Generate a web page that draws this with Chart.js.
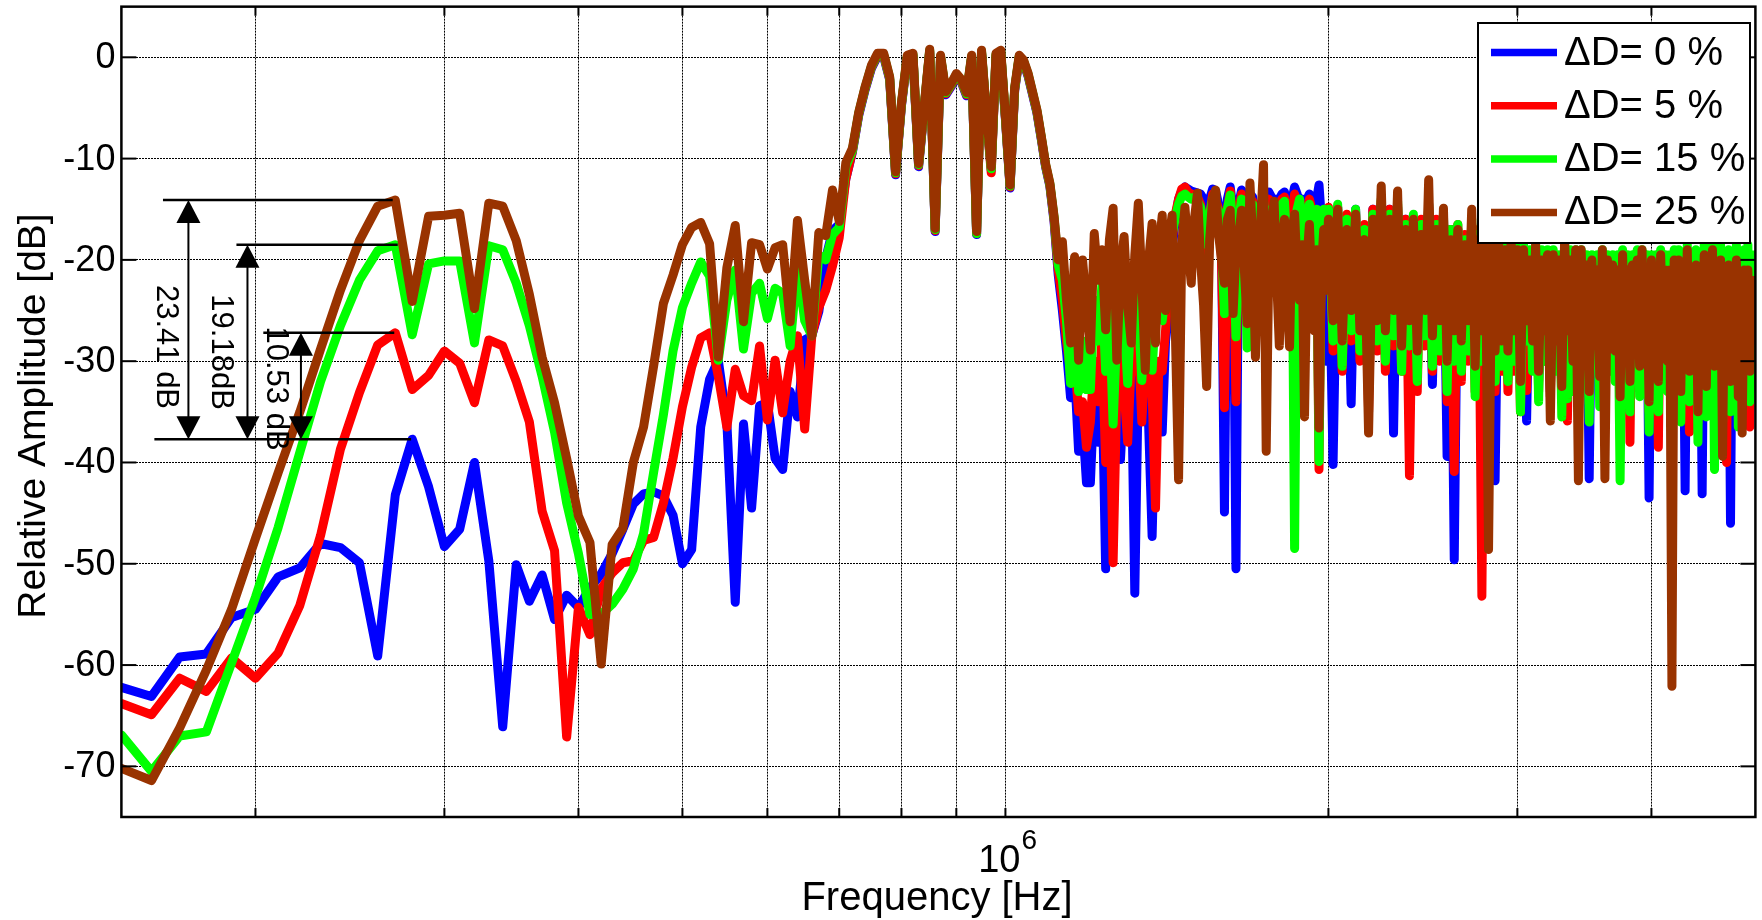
<!DOCTYPE html>
<html>
<head>
<meta charset="utf-8">
<title>Relative amplitude spectrum</title>
<script src="https://cdn.jsdelivr.net/npm/chart.js@4.4.1/dist/chart.umd.min.js"></script>
<style>
    html, body { margin: 0; padding: 0; background: #ffffff; overflow: hidden; }
    canvas { display: block; }
</style>
</head>
<body>
<canvas id="spectrumChart" width="1762" height="920"></canvas>
<script>
// Frequency bins [kHz]: 10 kHz steps below 2 MHz, 20 kHz steps up to 5 MHz
function bins(start, stop, step) {
    var out = [];
    for (var f = start; f <= stop; f += step) out.push(f);
    return out;
}
var freqLow = bins(150, 1190, 10);
var freqMid = bins(1200, 1990, 10);
var freqHigh = bins(2000, 5000, 20);

var seriesLabels = ['\u0394D= 0 %', '\u0394D= 5 %', '\u0394D= 15 %', '\u0394D= 25 %'];

// Relative amplitude [dB] - ΔD = 0 %
var blueLow = [
    -62.2, -63.1, -59.2, -58.9, -55.3, -54.5, -51.3, -50.4, -48.0, -48.4,
    -49.9, -59.1, -43.2, -37.7, -42.4, -48.3, -46.6, -40.0, -49.7, -66.1,
    -50.1, -53.7, -51.1, -55.5, -53.1, -54.3, -52.4, -51.0, -49.0, -46.6,
    -44.1, -43.1, -42.9, -43.3, -45.2, -50.0, -48.6, -36.5, -31.8, -29.9,
    -36.0, -53.8, -36.2, -44.5, -34.4, -34.1, -39.6, -40.7, -33.0, -35.5,
    -27.9, -27.5, -25.1, -19.9, -17.1, -16.5, -12.0, -9.4, -5.7, -3.2,
    -1.1, 0.1, 0.1, -2.2, -11.6, -4.8, -0.1, 0.1, -10.8, -5.1,
    0.5, -17.2, -0.1, -3.7, -2.9, -1.9, -2.5, -3.8, -0.1, -17.5,
    0.4, -5.8, -11.1, 0.1, 0.4, -6.1, -12.9, -3.3, -0.1, -0.6,
    -1.9, -3.7, -5.5, -8.1, -10.8, -12.7, -16.2, -21.5, -25.0, -29.0,
    -33.6, -31.0, -38.9, -36.0, -42.0
];
var blueMid = [
    -42.0, -33.0, -38.0, -31.0, -50.5, -34.0, -36.0, -31.0, -39.7, -33.0,
    -33.0, -30.0, -52.9, -32.0, -30.0, -33.0, -36.5, -47.3, -34.0, -31.0,
    -37.0, -28.0, -25.0, -19.0, -16.0, -14.0, -13.2, -12.8, -13.0, -13.2,
    -13.3, -13.4, -13.5, -14.0, -15.0, -14.0, -13.0, -13.2, -14.5, -18.0,
    -44.9, -14.0, -12.8, -15.0, -50.5, -14.5, -13.1, -13.5, -14.0, -13.5,
    -13.8, -16.0, -22.0, -14.5, -14.5, -14.0, -13.3, -13.8, -18.0, -14.0,
    -14.0, -13.5, -13.3, -16.0, -24.0, -14.0, -12.8, -13.5, -14.5, -14.0,
    -19.0, -14.0, -13.5, -14.0, -15.5, -14.0, -12.6, -16.0, -22.0, -30.0
];
var blueHigh = [
    -15.0, -40.2, -14.8, -30.0, -16.0, -34.2, -15.0, -29.0, -17.0, -33.0,
    -15.0, -28.0, -14.5, -29.0, -15.0, -37.1, -14.8, -29.0, -16.0, -30.0,
    -16.0, -30.0, -17.0, -27.0, -14.5, -32.3, -16.5, -28.0, -15.5, -39.4,
    -17.0, -49.6, -17.0, -29.0, -18.0, -28.0, -17.0, -31.0, -18.0, -36.0,
    -18.0, -30.0, -18.5, -41.8, -18.5, -29.0, -19.0, -30.0, -19.0, -29.9,
    -19.5, -33.0, -19.5, -35.9, -20.0, -29.0, -19.5, -32.0, -20.0, -28.0,
    -20.0, -33.0, -20.0, -29.0, -20.5, -33.0, -20.0, -34.0, -20.5, -31.0,
    -20.0, -34.0, -20.0, -29.0, -20.5, -41.6, -20.5, -28.0, -21.0, -32.0,
    -20.0, -32.0, -20.5, -29.0, -20.5, -30.0, -21.0, -34.0, -20.0, -29.0,
    -21.0, -33.0, -20.5, -28.0, -20.5, -31.0, -20.0, -29.0, -21.0, -43.5,
    -20.5, -30.0, -21.0, -33.0, -20.0, -28.0, -21.0, -31.0, -21.0, -34.0,
    -20.5, -29.0, -20.5, -33.0, -21.0, -42.8, -20.0, -32.0, -21.0, -29.0,
    -20.5, -35.0, -21.0, -43.1, -20.0, -33.0, -21.0, -29.0, -20.0, -34.0,
    -21.0, -28.0, -20.5, -35.0, -21.0, -30.0, -20.5, -46.0, -21.0, -28.0,
    -20.5, -34.0, -21.5, -32.0, -21.0, -29.0, -21.0, -33.0, -22.0, -29.0,
    -21.0
];

// ΔD = 5 %
var redLow = [
    -63.8, -64.9, -61.3, -62.6, -59.3, -61.3, -58.8, -54.1, -47.2, -38.7,
    -33.1, -28.4, -27.2, -32.8, -31.4, -29.0, -30.2, -34.1, -27.9, -28.5,
    -32.0, -36.0, -44.8, -48.7, -67.1, -54.3, -57.0, -52.5, -50.9, -49.9,
    -49.7, -47.7, -47.4, -44.0, -39.6, -34.5, -30.6, -27.7, -27.2, -31.5,
    -36.5, -30.8, -33.4, -33.9, -28.5, -35.8, -29.9, -35.1, -30.0, -27.5,
    -36.7, -27.5, -24.7, -23.0, -20.6, -17.8, -12.0, -9.3, -5.6, -3.1,
    -1.0, 0.2, 0.2, -2.1, -11.5, -4.7, 0.0, 0.2, -10.7, -5.0,
    0.6, -17.1, 0.0, -3.6, -2.8, -1.8, -2.4, -3.7, 0.0, -17.4,
    0.5, -5.7, -11.4, 0.2, 0.5, -6.0, -12.8, -3.2, 0.0, -0.5,
    -1.8, -3.6, -5.4, -8.0, -10.7, -12.6, -16.0, -21.0, -24.0, -28.0,
    -31.0, -30.0, -35.0, -34.0, -38.5
];
var redMid = [
    -36.0, -30.0, -34.0, -28.0, -40.0, -31.0, -49.9, -33.0, -29.0, -33.0,
    -38.0, -30.0, -31.0, -28.0, -36.0, -30.0, -29.0, -33.0, -44.5, -30.0,
    -31.0, -27.0, -22.0, -18.0, -15.5, -14.0, -13.0, -12.8, -13.3, -13.5,
    -13.6, -13.8, -14.5, -17.0, -20.5, -15.5, -13.5, -14.0, -15.0, -20.0,
    -34.6, -15.0, -13.2, -16.5, -34.0, -15.0, -13.5, -14.5, -16.0, -14.0,
    -14.2, -18.0, -24.0, -15.0, -13.9, -16.0, -14.0, -14.5, -21.0, -15.0,
    -14.5, -14.0, -13.8, -18.0, -26.0, -15.0, -13.5, -14.5, -16.0, -15.0,
    -22.0, -15.0, -14.0, -15.0, -17.0, -16.0, -40.7, -18.0, -15.5, -16.0
];
var redHigh = [
    -14.8, -29.0, -14.8, -31.0, -15.5, -28.0, -15.2, -30.0, -16.5, -35.0,
    -15.0, -29.0, -14.2, -31.0, -15.0, -28.5, -14.5, -31.0, -16.0, -41.3,
    -15.8, -33.0, -16.0, -28.5, -14.8, -31.0, -16.0, -30.0, -16.0, -34.0,
    -17.0, -40.9, -16.5, -32.0, -17.5, -30.0, -16.5, -33.0, -17.0, -53.2,
    -17.5, -36.0, -18.0, -33.0, -18.0, -31.0, -18.5, -33.0, -18.5, -31.0,
    -19.0, -35.0, -19.0, -32.9, -19.5, -30.0, -19.0, -33.0, -19.5, -30.0,
    -19.5, -33.5, -19.5, -30.0, -20.0, -34.0, -19.5, -35.9, -20.0, -32.0,
    -19.5, -35.0, -19.5, -30.0, -20.0, -34.2, -20.0, -29.0, -20.0, -33.0,
    -19.5, -33.0, -20.0, -30.0, -20.0, -30.0, -20.0, -36.0, -19.5, -30.0,
    -20.0, -38.0, -20.0, -29.0, -19.5, -31.0, -19.5, -30.0, -20.0, -35.0,
    -20.0, -31.0, -20.0, -38.5, -19.5, -29.0, -20.0, -31.0, -20.0, -34.0,
    -19.5, -30.0, -19.5, -33.0, -20.0, -29.0, -19.5, -37.0, -20.0, -30.0,
    -20.0, -36.0, -20.0, -29.0, -19.5, -33.0, -20.0, -30.0, -19.5, -35.0,
    -20.0, -31.0, -19.5, -33.0, -20.0, -40.0, -20.0, -33.0, -20.0, -29.0,
    -19.5, -35.0, -20.0, -32.0, -20.0, -30.0, -19.5, -36.5, -20.0, -30.0,
    -20.5
];

// ΔD = 15 %
var greenLow = [
    -66.9, -70.5, -67.0, -66.6, -59.8, -53.3, -46.4, -39.0, -32.0, -26.5,
    -22.0, -19.1, -18.5, -27.4, -20.4, -20.1, -20.1, -28.2, -18.6, -19.0,
    -22.3, -26.5, -31.5, -37.0, -44.0, -49.0, -55.0, -55.0, -54.0, -52.5,
    -50.5, -47.0, -41.0, -35.3, -29.0, -24.7, -22.3, -20.2, -21.6, -29.9,
    -24.0, -21.0, -28.8, -23.3, -22.3, -25.8, -22.8, -23.3, -28.5, -20.5,
    -26.0, -27.5, -19.5, -20.0, -17.5, -16.8, -10.8, -9.2, -5.5, -3.0,
    -0.9, 0.3, 0.3, -2.0, -11.4, -4.6, 0.1, 0.3, -10.6, -4.9,
    0.7, -17.0, 0.1, -3.5, -2.7, -1.7, -2.3, -3.6, 0.1, -17.4,
    0.6, -5.6, -11.0, 0.3, 0.6, -5.9, -12.7, -3.1, 0.1, -0.4,
    -1.7, -3.5, -5.3, -7.9, -10.6, -12.5, -15.8, -20.5, -22.0, -26.0,
    -32.2, -25.0, -33.0, -28.0, -32.8
];
var greenMid = [
    -32.8, -24.0, -28.0, -22.5, -31.0, -25.0, -36.2, -27.0, -23.0, -26.0,
    -32.2, -24.0, -22.0, -25.0, -31.9, -26.0, -23.5, -30.9, -25.0, -22.0,
    -26.0, -23.0, -20.0, -17.5, -15.8, -14.5, -13.7, -13.5, -13.8, -14.0,
    -13.8, -14.2, -14.8, -16.5, -18.5, -15.5, -14.0, -14.5, -15.2, -18.0,
    -25.3, -15.0, -13.6, -17.0, -27.6, -16.0, -14.0, -18.0, -28.7, -15.0,
    -14.5, -20.0, -26.0, -16.0, -14.2, -18.0, -16.0, -15.0, -20.0, -16.5,
    -15.0, -14.5, -14.2, -19.0, -24.5, -16.0, -48.5, -15.0, -14.0, -16.5,
    -20.0, -15.5, -14.5, -16.0, -18.0, -15.0, -39.9, -17.0, -15.0, -16.0
];
var greenHigh = [
    -15.0, -28.0, -14.5, -30.5, -16.0, -27.0, -15.0, -29.0, -17.0, -33.0,
    -15.5, -28.0, -14.0, -30.0, -15.5, -27.5, -14.2, -31.0, -16.5, -28.5,
    -15.5, -32.0, -16.5, -27.5, -14.5, -30.5, -16.5, -29.0, -15.5, -33.0,
    -17.0, -30.0, -16.5, -31.0, -18.0, -29.0, -16.0, -33.5, -17.5, -30.0,
    -17.0, -34.0, -18.0, -32.0, -17.5, -30.5, -18.5, -32.0, -18.0, -30.0,
    -18.5, -35.0, -18.5, -28.0, -19.0, -31.0, -18.5, -34.0, -19.0, -30.0,
    -19.0, -32.0, -19.0, -31.0, -19.5, -35.5, -18.5, -33.7, -19.0, -33.0,
    -19.0, -36.0, -19.0, -31.0, -19.5, -36.0, -19.5, -30.0, -19.5, -34.5,
    -19.0, -35.0, -19.5, -31.0, -19.5, -32.0, -19.5, -41.8, -19.0, -31.0,
    -19.5, -35.0, -19.5, -30.0, -19.0, -33.5, -19.0, -31.0, -19.5, -37.0,
    -19.5, -32.0, -19.5, -35.0, -19.0, -30.0, -19.5, -33.0, -19.5, -36.0,
    -19.0, -31.0, -19.0, -36.0, -19.5, -30.5, -18.5, -34.0, -19.5, -31.0,
    -19.0, -38.0, -19.5, -30.0, -18.5, -35.5, -19.5, -31.0, -18.5, -40.7,
    -19.0, -33.5, -18.5, -36.0, -19.5, -32.0, -19.0, -35.0, -19.5, -30.0,
    -18.5, -36.5, -19.5, -34.0, -19.0, -31.0, -18.5, -34.0, -19.5, -31.0,
    -19.5
];

// ΔD = 25 %
var brownLow = [
    -70.2, -71.4, -66.2, -60.5, -54.5, -47.5, -41.0, -35.0, -28.8, -23.0,
    -18.1, -14.7, -14.1, -24.1, -15.7, -15.6, -15.4, -24.8, -14.4, -14.7,
    -18.1, -23.4, -29.6, -34.1, -39.6, -45.3, -47.9, -59.9, -48.1, -46.5,
    -40.0, -36.5, -30.5, -24.3, -21.5, -18.5, -16.8, -16.3, -18.4, -29.6,
    -20.8, -16.6, -26.1, -18.3, -18.5, -20.9, -18.8, -18.5, -26.1, -16.1,
    -22.0, -27.5, -17.3, -17.6, -13.1, -16.2, -10.4, -9.0, -5.4, -2.9,
    -0.8, 0.4, 0.4, -1.9, -11.3, -4.5, 0.2, 0.4, -10.5, -4.8,
    0.8, -16.9, 0.2, -3.4, -2.6, -1.6, -2.2, -3.5, 0.2, -17.2,
    0.7, -5.5, -10.8, 0.4, 0.7, -5.8, -12.6, -3.0, 0.2, -0.3,
    -1.6, -3.4, -5.2, -7.8, -10.5, -12.4, -15.7, -20.0, -18.2, -24.0,
    -28.2, -19.7, -29.9, -20.0, -24.5
];
var brownMid = [
    -28.9, -17.4, -22.0, -19.0, -26.9, -18.0, -14.9, -29.9, -21.0, -17.7,
    -24.5, -28.2, -19.5, -14.4, -22.0, -30.9, -20.0, -16.4, -28.2, -19.0,
    -15.6, -25.0, -18.0, -15.6, -27.0, -41.7, -18.5, -14.8, -19.0, -22.3,
    -16.0, -13.4, -20.0, -24.5, -32.5, -18.0, -14.0, -13.1, -17.5, -20.0,
    -22.3, -16.0, -15.1, -25.3, -19.0, -17.5, -15.1, -21.0, -26.3, -12.4,
    -18.0, -29.6, -21.0, -16.0, -10.6, -38.9, -20.0, -16.5, -14.2, -22.0,
    -28.5, -18.0, -16.0, -24.0, -28.6, -17.0, -15.5, -21.0, -24.0, -18.5,
    -35.5, -20.0, -16.5, -22.5, -27.0, -19.0, -36.6, -21.0, -17.0, -23.0
];
var brownHigh = [
    -16.0, -26.0, -15.0, -28.0, -17.0, -25.0, -15.5, -27.0, -18.0, -37.1,
    -16.0, -26.0, -12.7, -27.0, -16.0, -25.0, -13.2, -28.5, -17.0, -26.0,
    -16.0, -29.0, -17.5, -25.0, -12.1, -27.5, -17.0, -26.0, -14.9, -30.0,
    -18.0, -27.0, -17.0, -28.0, -18.5, -26.0, -15.0, -30.5, -18.0, -27.0,
    -16.5, -48.6, -18.0, -29.0, -17.5, -28.0, -19.0, -29.0, -18.0, -27.0,
    -19.0, -32.0, -19.0, -26.0, -20.0, -28.0, -18.5, -31.0, -20.0, -27.0,
    -19.5, -35.9, -19.5, -28.0, -20.0, -32.5, -18.0, -27.0, -20.0, -30.0,
    -19.0, -41.8, -19.0, -28.0, -20.5, -33.0, -20.0, -27.0, -21.0, -31.5,
    -19.0, -41.6, -20.0, -28.0, -20.5, -29.0, -21.0, -33.5, -19.5, -28.0,
    -21.0, -32.0, -20.5, -27.0, -20.0, -30.5, -19.0, -28.0, -21.0, -34.0,
    -20.0, -29.0, -21.0, -32.0, -19.5, -27.0, -21.0, -30.0, -21.0, -62.1,
    -20.0, -28.0, -20.0, -33.0, -21.0, -27.5, -19.0, -31.0, -21.0, -28.0,
    -20.5, -35.0, -21.0, -27.0, -19.5, -32.5, -21.0, -28.0, -19.0, -30.5,
    -21.0, -27.0, -20.0, -39.4, -21.0, -29.0, -20.5, -32.0, -21.0, -27.0,
    -20.0, -33.5, -21.5, -37.1, -21.0, -28.0, -21.0, -31.0, -22.0, -28.0,
    -22.0
];

var yTicks = [0, -10, -20, -30, -40, -50, -60, -70];
var xGridTicks = [2e5, 3e5, 4e5, 5e5, 6e5, 7e5, 8e5, 9e5, 1e6, 2e6, 3e6, 4e6];
var gapLabels = ['23.41 dB', '19.18dB', '10.53 dB'];

(function () {
    'use strict';

    var FONT = "'Liberation Sans', Arial, Helvetica, sans-serif";
    var colors = ['rgb(0, 0, 255)', 'rgb(255, 0, 0)', 'rgb(0, 255, 0)', 'rgb(153, 51, 0)'];
    var LINE_W = 9;

    function points(low, mid, high) {
        var f = freqLow.concat(freqMid, freqHigh);
        var v = low.concat(mid, high);
        return f.map(function (k, i) { return { x: k * 1000, y: v[i] }; });
    }

    function lineSet(i, data) {
        return {
            label: seriesLabels[i],
            data: data,
            borderColor: colors[i],
            borderWidth: LINE_W,
            pointRadius: 0,
            tension: 0,
            borderJoinStyle: 'round',
            borderCapStyle: 'round',
            clip: 0,
            order: 4 - i
        };
    }

    // double arrows between the ΔD=0 % peak and each other peak
    var gapMarks = [
        { label: gapLabels[0], level: brownLow[12], lineFrom: 164e3, lineTo: 268.5e3, arrowAt: 173.2e3, textAt: 165e3, textDb: -28.6 },
        { label: gapLabels[1], level: greenLow[12], lineFrom: 192e3, lineTo: 271.4e3, arrowAt: 196.6e3, textAt: 185.7e3, textDb: -29.1 },
        { label: gapLabels[2], level: redLow[12], lineFrom: 203.4e3, lineTo: 269.4e3, arrowAt: 220.5e3, textAt: 208.6e3, textDb: -32.7 }
    ];

    function arrowHead(ctx, x, tipY, dir) {
        ctx.beginPath();
        ctx.moveTo(x, tipY);
        ctx.lineTo(x - 12, tipY - dir * 23);
        ctx.lineTo(x + 12, tipY - dir * 23);
        ctx.closePath();
        ctx.fill();
    }

    function hLine(ctx, x1, x2, y) {
        ctx.beginPath();
        ctx.moveTo(x1, y);
        ctx.lineTo(x2, y);
        ctx.stroke();
    }

    var markupPlugin = {
        id: 'markup',
        afterDatasetsDraw: function (chart) {
            var ctx = chart.ctx, xs = chart.scales.x, ys = chart.scales.y;
            ctx.save();
            ctx.strokeStyle = '#000';
            ctx.fillStyle = '#000';
            ctx.lineWidth = 2.5;
            var baseY = ys.getPixelForValue(blueLow[13]);
            hLine(ctx, xs.getPixelForValue(161e3), xs.getPixelForValue(279.3e3), baseY);
            gapMarks.forEach(function (m) {
                var topY = ys.getPixelForValue(m.level);
                var ax = xs.getPixelForValue(m.arrowAt);
                ctx.lineWidth = 2.5;
                hLine(ctx, xs.getPixelForValue(m.lineFrom), xs.getPixelForValue(m.lineTo), topY);
                ctx.lineWidth = 2;
                ctx.beginPath();
                ctx.moveTo(ax, topY + 20);
                ctx.lineTo(ax, baseY - 20);
                ctx.stroke();
                arrowHead(ctx, ax, topY, -1);
                arrowHead(ctx, ax, baseY, 1);
                ctx.save();
                ctx.translate(xs.getPixelForValue(m.textAt), ys.getPixelForValue(m.textDb));
                ctx.rotate(Math.PI / 2);
                ctx.font = '31px ' + FONT;
                ctx.textAlign = 'center';
                ctx.textBaseline = 'middle';
                ctx.fillText(m.label, 0, 0);
                ctx.restore();
            });
            ctx.restore();
        },
        afterDraw: function (chart) {
            var ctx = chart.ctx, a = chart.chartArea, xs = chart.scales.x, ys = chart.scales.y;
            ctx.save();
            ctx.strokeStyle = '#000';
            ctx.fillStyle = '#000';

            // inward tick marks
            ctx.lineWidth = 2;
            yTicks.forEach(function (v) {
                var y = ys.getPixelForValue(v);
                hLine(ctx, a.left, a.left + 15, y);
                hLine(ctx, a.right - 15, a.right, y);
            });
            xGridTicks.forEach(function (v) {
                var x = xs.getPixelForValue(v);
                ctx.beginPath();
                ctx.moveTo(x, a.bottom); ctx.lineTo(x, a.bottom - 9);
                ctx.moveTo(x, a.top); ctx.lineTo(x, a.top + 9);
                ctx.stroke();
            });

            // axes box
            ctx.lineWidth = 2.5;
            ctx.strokeRect(a.left, a.top, a.right - a.left, a.bottom - a.top);

            // y tick labels
            ctx.font = '36px ' + FONT;
            ctx.textAlign = 'right';
            ctx.textBaseline = 'middle';
            yTicks.forEach(function (v) {
                ctx.fillText(String(v), a.left - 6, ys.getPixelForValue(v) + 1);
            });

            // x tick label 10^6
            var x6 = xs.getPixelForValue(1e6);
            ctx.textBaseline = 'alphabetic';
            ctx.font = '38px ' + FONT;
            ctx.textAlign = 'right';
            ctx.fillText('10', x6 + 15, 872);
            ctx.font = '28px ' + FONT;
            ctx.textAlign = 'left';
            ctx.fillText('6', x6 + 16, 849);

            // axis titles
            ctx.font = '40px ' + FONT;
            ctx.textAlign = 'center';
            ctx.fillText('Frequency [Hz]', 937, 910);
            ctx.save();
            ctx.translate(45, 416);
            ctx.rotate(-Math.PI / 2);
            ctx.font = '39px ' + FONT;
            ctx.fillText('Relative Amplitude [dB]', 0, 0);
            ctx.restore();

            // legend
            var box = { x: 1478, y: 23, w: 272, h: 220 };
            ctx.fillStyle = '#fff';
            ctx.fillRect(box.x, box.y, box.w, box.h);
            ctx.lineWidth = 2;
            ctx.strokeRect(box.x, box.y, box.w, box.h);
            ctx.font = '40px ' + FONT;
            ctx.textAlign = 'left';
            ctx.textBaseline = 'middle';
            seriesLabels.forEach(function (label, i) {
                var y = box.y + 29.5 + i * 53.3;
                ctx.strokeStyle = colors[i];
                ctx.lineWidth = 7.5;
                ctx.lineCap = 'butt';
                hLine(ctx, 1491, 1557, y);
                ctx.fillStyle = '#000';
                ctx.fillText(label, 1564, y + 1);
            });
            ctx.restore();
        }
    };

    var gridOpts = { color: '#000', lineWidth: 1, drawTicks: false };
    var borderOpts = { display: false, dash: [2, 1] };

    new Chart(document.getElementById('spectrumChart').getContext('2d'), {
        type: 'line',
        data: {
            datasets: [
                lineSet(0, points(blueLow, blueMid, blueHigh)),
                lineSet(1, points(redLow, redMid, redHigh)),
                lineSet(2, points(greenLow, greenMid, greenHigh)),
                lineSet(3, points(brownLow, brownMid, brownHigh))
            ]
        },
        options: {
            responsive: false,
            animation: false,
            devicePixelRatio: 1,
            layout: { padding: { left: 0, top: 6.65, right: 6.6, bottom: 0 } },
            plugins: { legend: { display: false }, tooltip: { enabled: false } },
            scales: {
                x: {
                    type: 'logarithmic',
                    min: 1.5e5,
                    max: 5e6,
                    afterBuildTicks: function (scale) {
                        scale.ticks = xGridTicks.map(function (v) { return { value: v }; });
                    },
                    afterFit: function (scale) {
                        scale.height = 103;
                        scale.paddingLeft = 0;
                        scale.paddingRight = 0;
                    },
                    ticks: { display: false, autoSkip: false },
                    grid: gridOpts,
                    border: borderOpts
                },
                y: {
                    type: 'linear',
                    min: -75,
                    max: 5,
                    afterBuildTicks: function (scale) {
                        scale.ticks = yTicks.map(function (v) { return { value: v }; });
                    },
                    afterFit: function (scale) {
                        scale.width = 121.4;
                        scale.paddingTop = 0;
                        scale.paddingBottom = 0;
                    },
                    ticks: { display: false, autoSkip: false },
                    grid: gridOpts,
                    border: borderOpts
                }
            }
        },
        plugins: [markupPlugin]
    });
})();
</script>
</body>
</html>
